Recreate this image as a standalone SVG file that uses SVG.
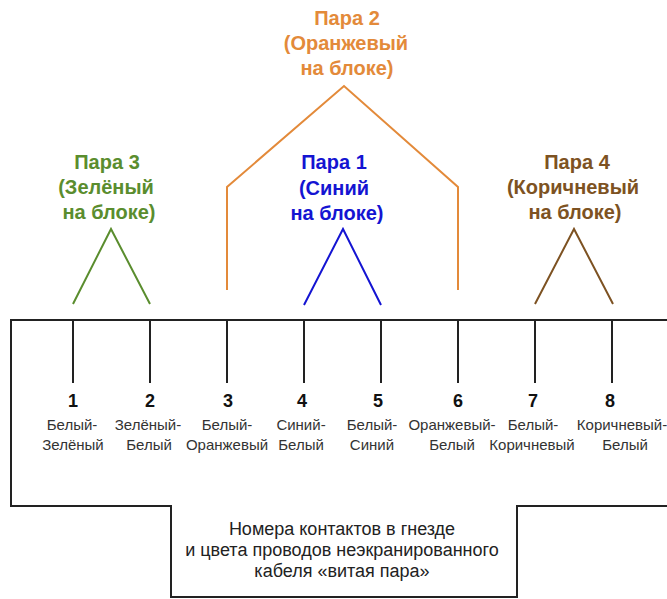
<svg xmlns="http://www.w3.org/2000/svg" width="667" height="599" viewBox="0 0 667 599">
<style>
.bx{fill:none;stroke:#222;stroke-width:2}
.pin{stroke:#222;stroke-width:2}
.num{font-family:"Liberation Sans",Arial,sans-serif;font-weight:bold;font-size:18px;fill:#111;text-anchor:middle}
.lbl{font-family:"Liberation Sans",Arial,sans-serif;font-size:15px;fill:#333;text-anchor:middle}
.cap{font-family:"Liberation Sans",Arial,sans-serif;font-size:18px;fill:#222;text-anchor:middle}
.pt{font-family:"Liberation Sans",Arial,sans-serif;font-weight:bold;font-size:20px;text-anchor:middle}
.g{fill:#5a8d2e}.gs{stroke:#5a8d2e}
.o{fill:#e38a3a}.os{stroke:#e38a3a}
.b{fill:#1414d2}.bs{stroke:#1414d2}
.br{fill:#7d5222}.brs{stroke:#7d5222}
.w{fill:none;stroke-width:2}
</style>
<rect width="667" height="599" fill="#fff"/>
<g id="socket">
<path class="bx" d="M667,320 H11 V506 H171 V597 H517 V506 H667"/>
<text class="cap" x="342" y="535">Номера контактов в гнезде</text>
<text class="cap" x="342" y="556">и цвета проводов неэкранированного</text>
<text class="cap" x="342" y="577">кабеля «витая пара»</text>
</g>
<g id="connectors">
<line class="pin" x1="73" y1="320" x2="73" y2="383"/>
<line class="pin" x1="150" y1="320" x2="150" y2="383"/>
<line class="pin" x1="227" y1="320" x2="227" y2="383"/>
<line class="pin" x1="304" y1="320" x2="304" y2="383"/>
<line class="pin" x1="381" y1="320" x2="381" y2="383"/>
<line class="pin" x1="458" y1="320" x2="458" y2="383"/>
<line class="pin" x1="535" y1="320" x2="535" y2="383"/>
<line class="pin" x1="612" y1="320" x2="612" y2="383"/>
<polyline class="w gs" points="73,304 111,229 150,304"/>
<polyline class="w os" points="227,290 227,187 344,86 458,187 458,290"/>
<polyline class="w bs" points="304,305 343,229 381,305"/>
<polyline class="w brs" points="535,304 574,229 613,304"/>
</g>
<g id="pin1"><text class="num" x="73" y="407">1</text><text class="lbl" x="72" y="430">Белый-</text><text class="lbl" x="73" y="450">Зелёный</text></g>
<g id="pin2"><text class="num" x="150" y="407">2</text><text class="lbl" x="148" y="430">Зелёный-</text><text class="lbl" x="149" y="450">Белый</text></g>
<g id="pin3"><text class="num" x="228" y="407">3</text><text class="lbl" x="227" y="430">Белый-</text><text class="lbl" x="227" y="450">Оранжевый</text></g>
<g id="pin4"><text class="num" x="302" y="407">4</text><text class="lbl" x="301" y="430">Синий-</text><text class="lbl" x="301" y="450">Белый</text></g>
<g id="pin5"><text class="num" x="378" y="407">5</text><text class="lbl" x="372" y="430">Белый-</text><text class="lbl" x="372" y="450">Синий</text></g>
<g id="pin6"><text class="num" x="458" y="407">6</text><text class="lbl" x="452" y="430">Оранжевый-</text><text class="lbl" x="452" y="450">Белый</text></g>
<g id="pin7"><text class="num" x="533" y="407">7</text><text class="lbl" x="533" y="430">Белый-</text><text class="lbl" x="532" y="450">Коричневый</text></g>
<g id="pin8"><text class="num" x="610" y="407">8</text><text class="lbl" x="622" y="430">Коричневый-</text><text class="lbl" x="625" y="450">Белый</text></g>
<g id="pair3"><text class="pt g" x="107" y="169">Пара 3</text><text class="pt g" x="106" y="194">(Зелёный</text><text class="pt g" x="109" y="219">на блоке)</text></g>
<g id="pair2"><text class="pt o" x="347" y="25">Пара 2</text><text class="pt o" x="346" y="50">(Оранжевый</text><text class="pt o" x="347" y="75">на блоке)</text></g>
<g id="pair1"><text class="pt b" x="334" y="169">Пара 1</text><text class="pt b" x="334" y="195">(Синий</text><text class="pt b" x="337" y="220">на блоке)</text></g>
<g id="pair4"><text class="pt br" x="577" y="169">Пара 4</text><text class="pt br" x="573" y="194">(Коричневый</text><text class="pt br" x="575" y="219">на блоке)</text></g>
</svg>
